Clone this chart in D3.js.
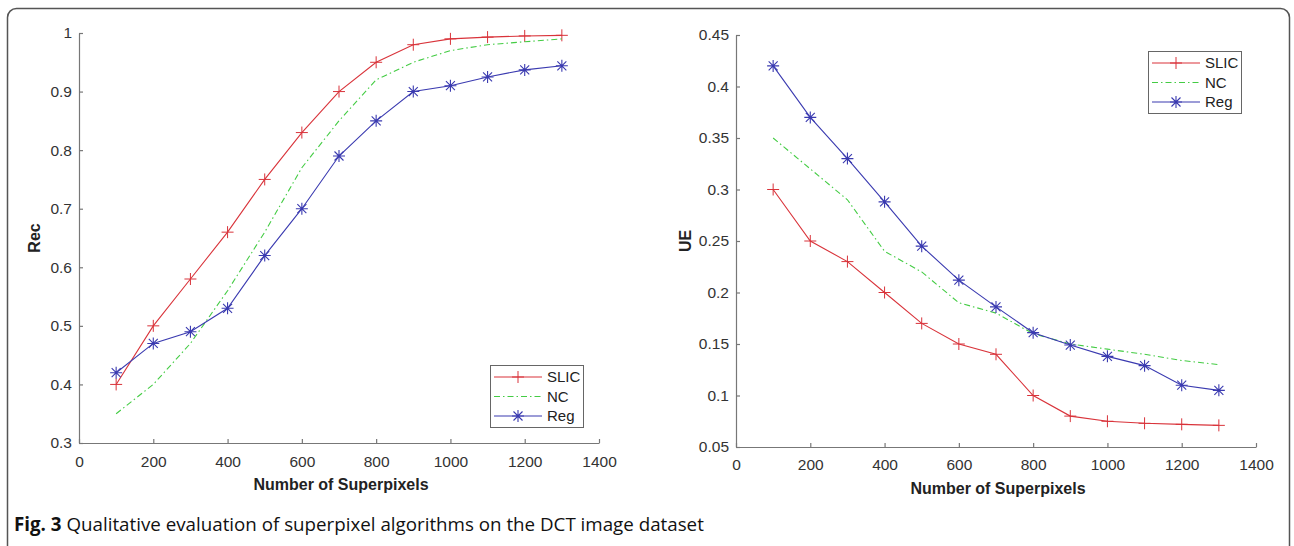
<!DOCTYPE html>
<html>
<head>
<meta charset="utf-8">
<script src="https://cdn.jsdelivr.net/npm/d3@7"></script>
<style>
  body { margin: 0; background: #fff; }
  svg { display: block; }
  .tick text { font-family: "Liberation Sans", Arial, sans-serif; font-size: 15.5px; fill: #333; }
  .axis path, .axis line { stroke: #777; stroke-width: 1.2; }
  .lbl { font-family: "Liberation Sans", Arial, sans-serif; font-size: 16px; font-weight: bold; fill: #222; }
  .leg { font-family: "Liberation Sans", Arial, sans-serif; font-size: 15px; fill: #222; }
</style>
</head>
<body>
<div id="graph"></div>
<script>
var xs = [100, 200, 300, 400, 500, 600, 700, 800, 900, 1000, 1100, 1200, 1300];

var recSlic = [0.40, 0.50, 0.58, 0.66, 0.75, 0.83, 0.90, 0.95, 0.98, 0.99, 0.993, 0.995, 0.996];
var recNc   = [0.35, 0.40, 0.47, 0.56, 0.66, 0.77, 0.85, 0.92, 0.95, 0.97, 0.98, 0.985, 0.99];
var recReg  = [0.42, 0.47, 0.49, 0.53, 0.62, 0.70, 0.79, 0.85, 0.90, 0.91, 0.925, 0.937, 0.944];

var ueSlic = [0.30, 0.25, 0.23, 0.20, 0.17, 0.15, 0.14, 0.10, 0.08, 0.075, 0.073, 0.072, 0.071];
var ueNc   = [0.35, 0.32, 0.29, 0.24, 0.22, 0.19, 0.18, 0.16, 0.15, 0.145, 0.14, 0.134, 0.13];
var ueReg  = [0.42, 0.37, 0.33, 0.288, 0.245, 0.212, 0.186, 0.161, 0.149, 0.138, 0.129, 0.11, 0.105];

var xTicks = [0, 200, 400, 600, 800, 1000, 1200, 1400];
var recTicks = [0.3, 0.4, 0.5, 0.6, 0.7, 0.8, 0.9, 1];
var ueTicks = [0.05, 0.1, 0.15, 0.2, 0.25, 0.3, 0.35, 0.4, 0.45];

var names = ["SLIC", "NC", "Reg"];
var colors = { SLIC: "#d9333a", NC: "#44cc44", Reg: "#3a3ab0" };

var W = 1294, H = 546;
var svg = d3.select("#graph").append("svg").attr("width", W).attr("height", H);

// outer frame
svg.append("rect")
  .attr("x", 7.5).attr("y", 8.5).attr("width", 1282).attr("height", 560)
  .attr("rx", 9).attr("fill", "none").attr("stroke", "#555").attr("stroke-width", 1.5);

function marker(g, name, x, y) {
  var s = 6;
  var c = colors[name];
  if (name == "SLIC") {
    g.append("path").attr("d", "M" + (x - s) + "," + y + "H" + (x + s) + "M" + x + "," + (y - s) + "V" + (y + s))
      .attr("stroke", c).attr("stroke-width", 1);
  } else if (name == "Reg") {
    var d = s * 0.75;
    g.append("path")
      .attr("d", "M" + (x - s) + "," + y + "H" + (x + s) + "M" + x + "," + (y - s) + "V" + (y + s) +
        "M" + (x - d) + "," + (y - d) + "L" + (x + d) + "," + (y + d) +
        "M" + (x - d) + "," + (y + d) + "L" + (x + d) + "," + (y - d))
      .attr("stroke", c).attr("stroke-width", 1.1);
  }
}

function panel(p) {
  var x = d3.scaleLinear().domain([0, 1400]).range([p.left, p.right]);
  var y = d3.scaleLinear().domain(p.yDomain).range([p.bottom, p.top]);
  var g = svg.append("g");

  g.append("g").attr("class", "axis")
    .attr("transform", "translate(0," + p.bottom + ")")
    .call(d3.axisBottom(x).tickValues(xTicks).tickFormat(d3.format("d"))
      .tickSizeInner(-4).tickSizeOuter(0).tickPadding(p.xPad));

  g.append("g").attr("class", "axis")
    .attr("transform", "translate(" + p.left + ",0)")
    .call(d3.axisLeft(y).tickValues(p.yTicks).tickFormat(d3.format("")).tickSizeInner(-4).tickSizeOuter(0).tickPadding(7));

  var line = d3.line().x(function(d, i) { return x(xs[i]); }).y(function(d) { return y(d); });

  p.series.forEach(function(vals, k) {
    var name = names[k];
    g.append("path").datum(vals)
      .attr("d", line).attr("fill", "none")
      .attr("stroke", colors[name]).attr("stroke-width", 1.1)
      .attr("stroke-dasharray", name == "NC" ? "6,3,1.5,3" : null);
    vals.forEach(function(v, i) { marker(g, name, x(xs[i]), y(v)); });
  });

  g.append("text").attr("class", "lbl")
    .attr("x", (p.left + p.right) / 2 + 2).attr("y", p.titleY)
    .attr("text-anchor", "middle").text("Number of Superpixels");

  g.append("text").attr("class", "lbl")
    .attr("transform", "translate(" + p.yLabelX + "," + ((p.top + p.bottom) / 2) + ") rotate(-90)")
    .attr("text-anchor", "middle").text(p.yLabel);

  // legend
  var L = p.legend;
  var lg = g.append("g").attr("transform", "translate(" + L.x + "," + L.y + ")");
  lg.append("rect").attr("x", 0.5).attr("y", 0.5).attr("width", 93).attr("height", 62)
    .attr("fill", "#fff").attr("stroke", "#666").attr("stroke-width", 1);
  names.forEach(function(name, k) {
    var yy = 12 + k * 19.5;
    lg.append("line").attr("x1", 4).attr("x2", 52).attr("y1", yy).attr("y2", yy)
      .attr("stroke", colors[name]).attr("stroke-width", 1.1)
      .attr("stroke-dasharray", name == "NC" ? "6,3,1.5,3" : null);
    marker(lg, name, 28, yy);
    lg.append("text").attr("class", "leg").attr("x", 57).attr("y", yy + 5).text(name);
  });
}

panel({
  left: 79, right: 599, top: 33, bottom: 443, xPad: 13, titleY: 490,
  yDomain: [0.3, 1], yTicks: recTicks, yLabel: "Rec", yLabelX: 40,
  series: [recSlic, recNc, recReg],
  legend: { x: 490, y: 365 }
});

panel({
  left: 736, right: 1256, top: 35, bottom: 447, xPad: 12, titleY: 494,
  yDomain: [0.05, 0.45], yTicks: ueTicks, yLabel: "UE", yLabelX: 691,
  series: [ueSlic, ueNc, ueReg],
  legend: { x: 1148, y: 51 }
});

// caption
var cap = svg.append("text").attr("x", 14).attr("y", 531)
  .style("font-family", "'Open Sans', 'Noto Sans', sans-serif").style("font-size", "18.75px").attr("fill", "#111");
cap.append("tspan").style("font-weight", "bold").text("Fig. 3");
cap.append("tspan").text(" Qualitative evaluation of superpixel algorithms on the DCT image dataset");
</script>
</body>
</html>
